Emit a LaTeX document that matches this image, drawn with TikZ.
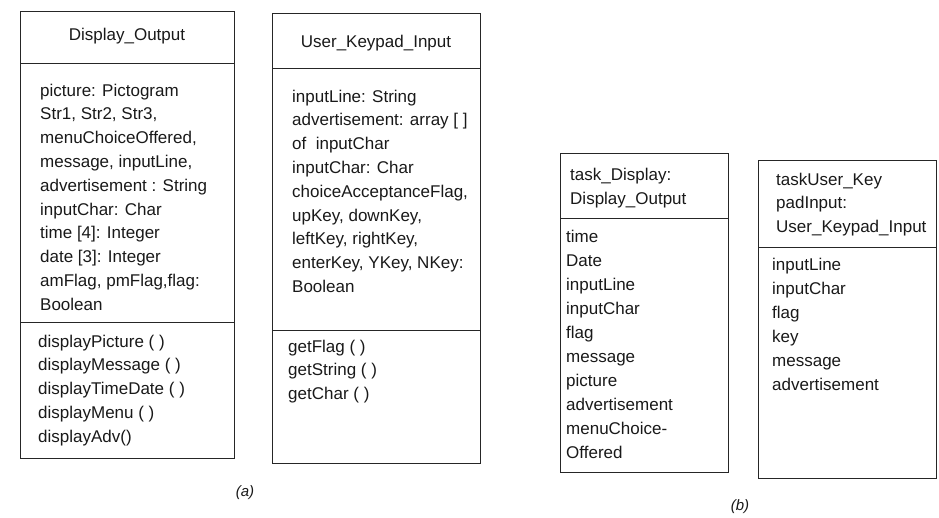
\documentclass[tikz,border=0pt]{standalone}
\usepackage{fontspec}
\setmainfont{Liberation Sans}
\newcommand{\ulrows}[1]{\begin{tabular}[t]{@{}l@{}}#1\end{tabular}}
\begin{document}
\begin{tikzpicture}[x=1pt,y=1pt,
  boxline/.style={draw=black!85,line width=0.9pt},
  txt/.style={inner sep=0pt,anchor=base west,text=black!90,
    font=\fontsize{17}{23.8}\selectfont},
  ctxt/.style={inner sep=0pt,anchor=base,text=black!90,font=\fontsize{17}{23.8}\selectfont},
  lbl/.style={inner sep=0pt,text=black!90,font=\fontsize{15}{18}\selectfont\itshape}]
\useasboundingbox (0,0) rectangle (939,-517);

% ---------- (a) Display_Output ----------
\draw[boxline] (20,-11) rectangle (234,-458);
\draw[boxline] (20,-63) -- (234,-63);
\draw[boxline] (20,-322) -- (234,-322);
\node[ctxt] (dohead) at (127,-40) {Display\_Output};
\node[txt] (doattr) at (40,-96) {\ulrows{picture: Pictogram\\Str1, Str2, Str3,\\menuChoiceOffered,\\message, inputLine,\\advertisement : String\\inputChar: Char\\time [4]: Integer\\date [3]: Integer\\amFlag, pmFlag,flag:\\Boolean}};
\node[txt] (doops) at (38,-347) {\ulrows{displayPicture ( )\\displayMessage ( )\\displayTimeDate ( )\\displayMenu ( )\\displayAdv()}};

% ---------- (a) User_Keypad_Input ----------
\draw[boxline] (272,-13) rectangle (480,-463);
\draw[boxline] (272,-68) -- (480,-68);
\draw[boxline] (272,-330) -- (480,-330);
\node[ctxt] (ukhead) at (376,-47) {User\_Keypad\_Input};
\node[txt] (ukattr) at (292,-102) {\ulrows{inputLine: String\\advertisement: array [ ]\\of\ \ inputChar\\inputChar: Char\\choiceAcceptanceFlag,\\upKey, downKey,\\leftKey, rightKey,\\enterKey, YKey, NKey:\\Boolean}};
\node[txt] (ukops) at (288,-352) {\ulrows{getFlag ( )\\getString ( )\\getChar ( )}};

% ---------- (b) task_Display ----------
\draw[boxline] (560,-153) rectangle (728,-472);
\draw[boxline] (560,-218) -- (728,-218);
\node[txt,font=\fontsize{17}{24}\selectfont] (tdhead) at (570,-180) {\ulrows{task\_Display:\\Display\_Output}};
\node[txt,font=\fontsize{17}{24}\selectfont] (tdattr) at (566,-242) {\ulrows{time\\Date\\inputLine\\inputChar\\flag\\message\\picture\\advertisement\\menuChoice-\\Offered}};

% ---------- (b) taskUser_KeypadInput ----------
\draw[boxline] (758,-160) rectangle (936,-478);
\draw[boxline] (758,-247) -- (936,-247);
\node[txt,font=\fontsize{17}{23.5}\selectfont] (tuhead) at (776,-185) {\ulrows{taskUser\_Key\\padInput:\\User\_Keypad\_Input}};
\node[txt,font=\fontsize{17}{24}\selectfont] (tuattr) at (772,-270) {\ulrows{inputLine\\inputChar\\flag\\key\\message\\advertisement}};

% ---------- labels ----------
\node[lbl] (la) at (245,-493) {(a)};
\node[lbl] (lb) at (740,-507) {(b)};
\end{tikzpicture}
\end{document}
